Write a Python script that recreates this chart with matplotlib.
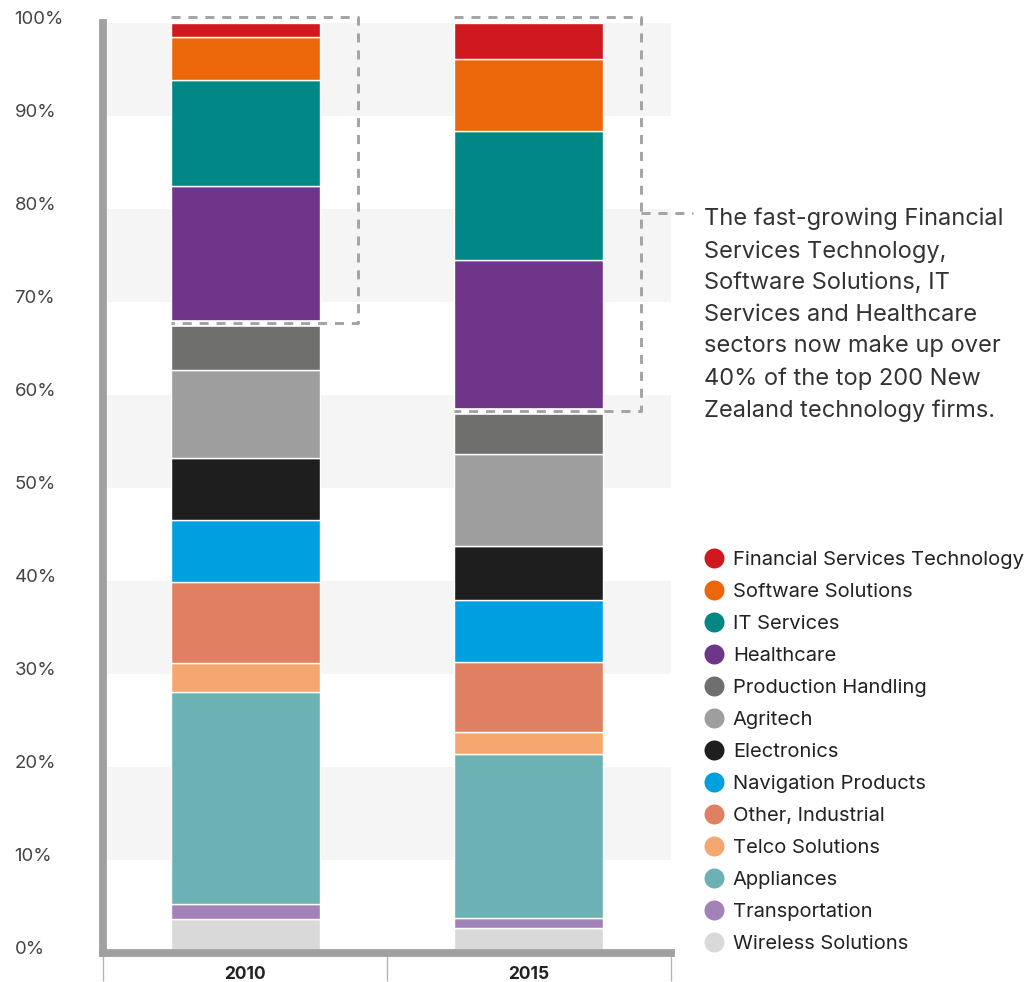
import matplotlib
matplotlib.use("Agg")
import matplotlib.pyplot as plt
import matplotlib.transforms as mtransforms
from matplotlib.lines import Line2D
import numpy as np

plt.rcParams['font.family'] = ['Inter', 'DejaVu Sans']

# ---------------- data ----------------
years = ['2010', '2015']
sectors = ['Wireless Solutions', 'Transportation', 'Appliances', 'Telco Solutions',
           'Other, Industrial', 'Navigation Products', 'Electronics', 'Agritech',
           'Production Handling', 'Healthcare', 'IT Services', 'Software Solutions',
           'Financial Services Technology']
share_2010 = [3.6, 1.6, 22.8, 3.1, 8.8, 6.6, 6.7, 9.5, 5.0, 14.7, 11.4, 4.7, 1.5]
share_2015 = [2.6, 1.1, 17.7, 2.3, 7.5, 6.7, 5.8, 9.9, 4.6, 16.3, 13.8, 7.8, 3.9]
sector_colors = ['#d9d9d9', '#a282b8', '#6cb2b5', '#f6a76f', '#e17f63', '#009fe0',
                 '#1e1e1e', '#9e9e9e', '#6f6f6e', '#6f3589', '#028787', '#eb6709',
                 '#d0191e']
n_highlight = 4  # top four sectors highlighted by the dashed boxes
y_ticks = [0, 10, 20, 30, 40, 50, 60, 70, 80, 90, 100]
y_tick_labels = [f'{v}%' for v in y_ticks]
annotation = ("The fast-growing Financial\nServices Technology,\nSoftware Solutions, IT\n"
              "Services and Healthcare\nsectors now make up over\n40% of the top 200 New\n"
              "Zealand technology firms.")

# ---------------- figure ----------------
W, H = 1027, 982
fig = plt.figure(figsize=(W / 100, H / 100), dpi=100)
ax_left, ax_right, ax_top, ax_bottom = 103.3, 670.5, 22.7, 952.5
ax = fig.add_axes([ax_left / W, (H - ax_bottom) / H,
                   (ax_right - ax_left) / W, (ax_bottom - ax_top) / H])
ax.set_xlim(-0.5, 1.5)
ax.set_ylim(0, 100)

# alternating bands
for lo in y_ticks[1:-1:2]:
    ax.axhspan(lo, lo + 10, color='#f5f5f5', lw=0, zorder=0)

# stacked bars
x = np.arange(len(years))
bar_w = 0.525
data = np.array([share_2010, share_2015]).T  # sectors x years
bottom = np.zeros(len(years))
for name, vals, col in zip(sectors, data, sector_colors):
    ax.bar(x, vals, bar_w, bottom=bottom, color=col, edgecolor='white',
           linewidth=1.0, zorder=2, label=name)
    bottom = bottom + vals

# dashed highlight boxes
dash_col = '#a3a3a3'
box_extra = 0.135
box_top = 100.65
base = data[:-n_highlight].sum(axis=0)
for i in range(len(years)):
    left = x[i] - bar_w / 2
    right = x[i] + bar_w / 2 + box_extra
    yb = base[i]
    ax.plot([left, x[i] + bar_w / 2], [yb, yb], color='white', lw=4.8,
            solid_capstyle='butt', zorder=3, clip_on=False)
    ax.plot([left, right, right, left], [box_top, box_top, yb, yb],
            color=dash_col, lw=2.1, linestyle=(0, (3.1, 2.7)), zorder=4,
            clip_on=False, solid_joinstyle='miter')

# connector to annotation
conn_y = 79.5
ax.plot([x[-1] + bar_w / 2 + box_extra, 1.58], [conn_y, conn_y], color=dash_col,
        lw=2.1, linestyle=(0, (3.1, 2.7)), zorder=4, clip_on=False)

fig.text(704 / W, 1 - 208 / H, annotation, ha='left', va='top', fontsize=17.0,
         color='#333333', linespacing=1.56)

# spines
for s in ['top', 'right']:
    ax.spines[s].set_visible(False)
for s in ['left', 'bottom']:
    ax.spines[s].set_color('#a0a0a0')
    ax.spines[s].set_linewidth(5.6)
ax.spines['bottom'].set_capstyle('projecting')

# x ticks
ax.set_xticks(x, years)
ax.set_xticks([-0.5, 0.5, 1.5], minor=True)
ax.tick_params(axis='x', which='major', length=0, pad=9.5, labelsize=12.5,
               labelcolor='#222222')
for lbl in ax.get_xticklabels():
    lbl.set_fontweight('bold')
ax.tick_params(axis='x', which='minor', length=20, width=0.95, color='#b4b4b4',
               direction='out')

# y ticks
ax.set_yticks(y_ticks, y_tick_labels)
ax.tick_params(axis='y', length=0, pad=64, labelsize=13.4, labelcolor='#444444')
offset = mtransforms.ScaledTranslation(0, 5.5 / 100, fig.dpi_scale_trans)
for lbl in ax.get_yticklabels():
    lbl.set_horizontalalignment('left')
    lbl.set_transform(lbl.get_transform() + offset)

# legend
handles = [Line2D([], [], marker='o', ls='', markersize=14.4, color=c,
                  markeredgewidth=0) for c in sector_colors[::-1]]
fig.legend(handles, sectors[::-1], loc='upper left',
           bbox_to_anchor=(704 / W, 1 - 551 / H), frameon=False, fontsize=14.5,
           handlelength=1.0, handletextpad=0.43, labelspacing=0.69, borderpad=0,
           borderaxespad=0, labelcolor='#222222')

fig.savefig('out.png', dpi=100, facecolor='white')
